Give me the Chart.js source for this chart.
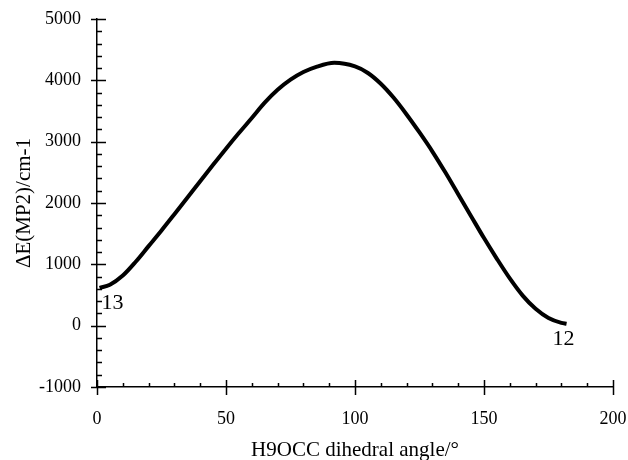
<!DOCTYPE html>
<html>
<head>
<meta charset="utf-8">
<script src="https://cdn.jsdelivr.net/npm/chart.js@4.4.1/dist/chart.umd.min.js"></script>
<style>
  html, body { margin: 0; padding: 0; background: #fff; }
  #wrap { width: 628px; height: 460px; position: relative; }
</style>
</head>
<body>
<div id="wrap"><canvas id="c" width="628" height="460"></canvas></div>
<script>
// ---- data ----
const angles   = [1, 5, 10, 15, 20, 25, 30, 35, 40, 45, 50, 55, 60, 65, 70, 75, 80, 85, 92,
                  100, 105, 110, 115, 120, 125, 130, 135, 140, 145, 150, 155, 160, 165, 170, 175, 180, 182];
const energies = [615, 667, 817, 1042, 1297, 1552, 1817, 2085, 2355, 2622, 2885, 3140, 3385, 3635, 3845, 4010, 4135, 4220, 4285,
                  4226, 4120, 3944, 3715, 3444, 3150, 2839, 2500, 2143, 1785, 1428, 1090, 770, 490, 275, 125, 45, 30];
const xTickValues = [0, 50, 100, 150, 200];
const yTickValues = [-1000, 0, 1000, 2000, 3000, 4000, 5000];
const xMinorStep = 10;
const yMinorStep = 200;
const pointTags = [
  { index: 0, text: '13', dx: 2, dy: 21 },
  { index: 36, text: '12', dx: -14, dy: 21 }
];
const xTitle = 'H9OCC dihedral angle/\u00B0';
const yTitle = '\u0394E(MP2)/cm-1';

const serif = "'Liberation Serif', 'Times New Roman', serif";

const decor = {
  id: 'decor',
  afterDraw(chart) {
    const { ctx, scales: { x, y } } = chart;
    const yLeft = chart.chartArea.left;
    const xBottom = chart.chartArea.bottom;
    ctx.save();
    ctx.strokeStyle = '#000';
    ctx.lineWidth = 1.5;
    ctx.beginPath();
    yTickValues.forEach(v => {
      const p = Math.round(y.getPixelForValue(v)) + 0.5;
      ctx.moveTo(yLeft - 6, p); ctx.lineTo(yLeft + 9, p);
    });
    for (let v = y.min; v <= y.max; v += yMinorStep) {
      if (yTickValues.includes(v)) continue;
      const p = Math.round(y.getPixelForValue(v)) + 0.5;
      ctx.moveTo(yLeft, p); ctx.lineTo(yLeft + 5, p);
    }
    xTickValues.forEach(v => {
      const p = Math.round(x.getPixelForValue(v)) + 0.5;
      ctx.moveTo(p, xBottom - 7); ctx.lineTo(p, xBottom + 8);
    });
    for (let v = x.min; v <= x.max; v += xMinorStep) {
      if (xTickValues.includes(v)) continue;
      const p = Math.round(x.getPixelForValue(v)) + 0.5;
      ctx.moveTo(p, xBottom); ctx.lineTo(p, xBottom - 4);
    }
    ctx.stroke();

    ctx.fillStyle = '#000';
    ctx.font = '21px ' + serif;
    ctx.textAlign = 'center';
    ctx.textBaseline = 'alphabetic';
    ctx.fillText(xTitle, (x.left + x.right) / 2, 456);
    ctx.save();
    ctx.translate(30, 203);
    ctx.rotate(-Math.PI / 2);
    ctx.fillText(yTitle, 0, 0);
    ctx.restore();

    const meta = chart.getDatasetMeta(0);
    ctx.font = '22px ' + serif;
    ctx.textAlign = 'left';
    pointTags.forEach(t => {
      const el = meta.data[t.index];
      ctx.fillText(t.text, el.x + t.dx, el.y + t.dy);
    });
    ctx.restore();
  }
};

new Chart(document.getElementById('c'), {
  type: 'line',
  data: {
    datasets: [{
      data: angles.map((a, i) => ({ x: a, y: energies[i] })),
      borderColor: '#000',
      borderWidth: 4,
      pointRadius: 0,
      fill: false,
      cubicInterpolationMode: 'monotone',
      borderCapStyle: 'butt',
      borderJoinStyle: 'round'
    }]
  },
  options: {
    responsive: false,
    animation: false,
    devicePixelRatio: 1,
    layout: { padding: { left: 0, right: 15, top: 19, bottom: 0 } },
    plugins: { legend: { display: false }, tooltip: { enabled: false } },
    scales: {
      x: {
        type: 'linear',
        min: 0, max: 200,
        afterBuildTicks(scale) { scale.ticks = xTickValues.map(v => ({ value: v })); },
        afterFit(scale) { scale.height = 73; scale.paddingLeft = 0; scale.paddingRight = 0; },
        grid: { display: false, drawTicks: false, tickLength: 0 },
        border: { display: true, color: '#000', width: 1.5 },
        ticks: { color: '#000', padding: 21, maxRotation: 0, autoSkip: false,
                 callback: v => String(v),
                 font: { family: serif, size: 18 } }
      },
      y: {
        type: 'linear',
        min: -1000, max: 5000,
        afterBuildTicks(scale) { scale.ticks = yTickValues.map(v => ({ value: v })); },
        afterFit(scale) { scale.width = 97; scale.paddingTop = 0; scale.paddingBottom = 0; },
        grid: { display: false, drawTicks: false, tickLength: 0 },
        border: { display: true, color: '#000', width: 1.5 },
        ticks: { color: '#000', padding: 16, autoSkip: false,
                 callback: v => String(v),
                 font: { family: serif, size: 18 } }
      }
    }
  },
  plugins: [decor]
});
</script>
</body>
</html>
